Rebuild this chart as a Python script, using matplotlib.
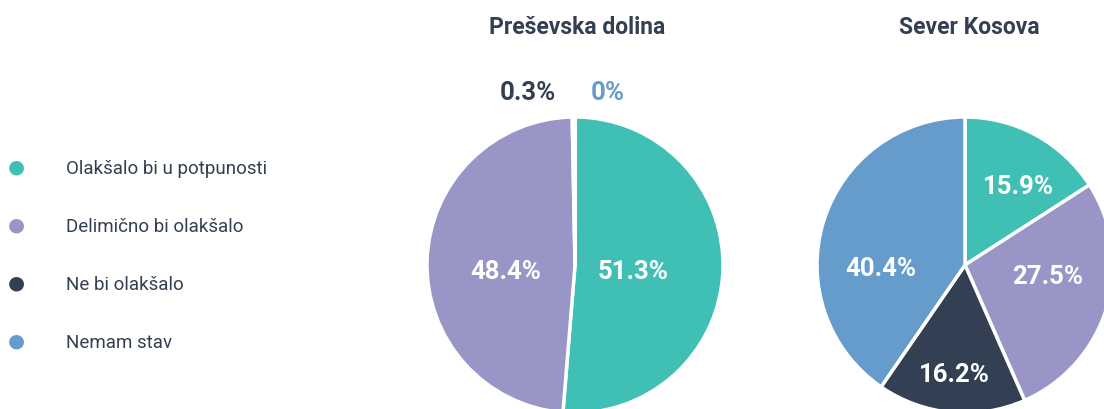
import numpy as np
import matplotlib.pyplot as plt

categories = ["Olakšalo bi u potpunosti", "Delimično bi olakšalo", "Ne bi olakšalo", "Nemam stav"]
colors = ["#40bfb5", "#9995c7", "#333f52", "#669ccb"]
presevo = [51.3, 48.4, 0.3, 0.0]
sever = [15.9, 27.5, 16.2, 40.4]
titles = ["Preševska dolina", "Sever Kosova"]

# label placement inside the pies (in pie-radius units)
presevo_pos = [(0.39, -0.05), (-0.47, -0.05)]
sever_pos = [(0.36, 0.53), (0.56, -0.08), (-0.07, -0.74), (-0.57, -0.03)]

plt.rcParams["font.family"] = ["Roboto", "DejaVu Sans"]
DARK = "#333f52"

W, H = 1104, 409
fig = plt.figure(figsize=(W / 100, H / 100), dpi=100)
R = 148  # pie radius in px
half = 1.3 * R


def pie_axes(cx, cy):
    ax = fig.add_axes([(cx - half) / W, (H - cy - half) / H, 2 * half / W, 2 * half / H])
    ax.set_aspect("equal")
    ax.axis("off")
    return ax


def draw_pie(ax, values, positions):
    ax.pie(values, colors=colors, startangle=90, counterclock=False,
           wedgeprops=dict(edgecolor="white", linewidth=2.5))
    ax.set_xlim(-1.3, 1.3)
    ax.set_ylim(-1.3, 1.3)
    for v, (x, y) in zip(values, positions):
        ax.text(x, y, f"{v:.1f}%", color="white", fontsize=18.5, fontweight="bold",
                ha="center", va="center")


ax1 = pie_axes(575, 265)
draw_pie(ax1, presevo, presevo_pos)
# tiny slices labelled outside, above the pie
ax1.text(-0.32, 1.16, f"{presevo[2]:.1f}%", color=colors[2], fontsize=18.5,
         fontweight="bold", ha="center", va="center")
ax1.text(0.22, 1.16, f"{presevo[3]:.0f}%", color=colors[3], fontsize=18.5,
         fontweight="bold", ha="center", va="center")

ax2 = pie_axes(965, 265)
draw_pie(ax2, sever, sever_pos)

for cx, t in zip([577, 969], titles):
    fig.text(cx / W, 1 - 28 / H, t, color=DARK, fontsize=16.5, fontweight="bold",
             ha="center", va="center")

for i, (c, lab) in enumerate(zip(colors, categories)):
    y = 1 - (167 + 58 * i) / H
    fig.text(16 / W, y, "\u25cf", color=c, fontsize=14, ha="center", va="center",
             family="DejaVu Sans")
    fig.text(66 / W, y - 0.005, lab, color=DARK, fontsize=13.5, ha="left", va="center")

fig.savefig("out.png", dpi=100)
